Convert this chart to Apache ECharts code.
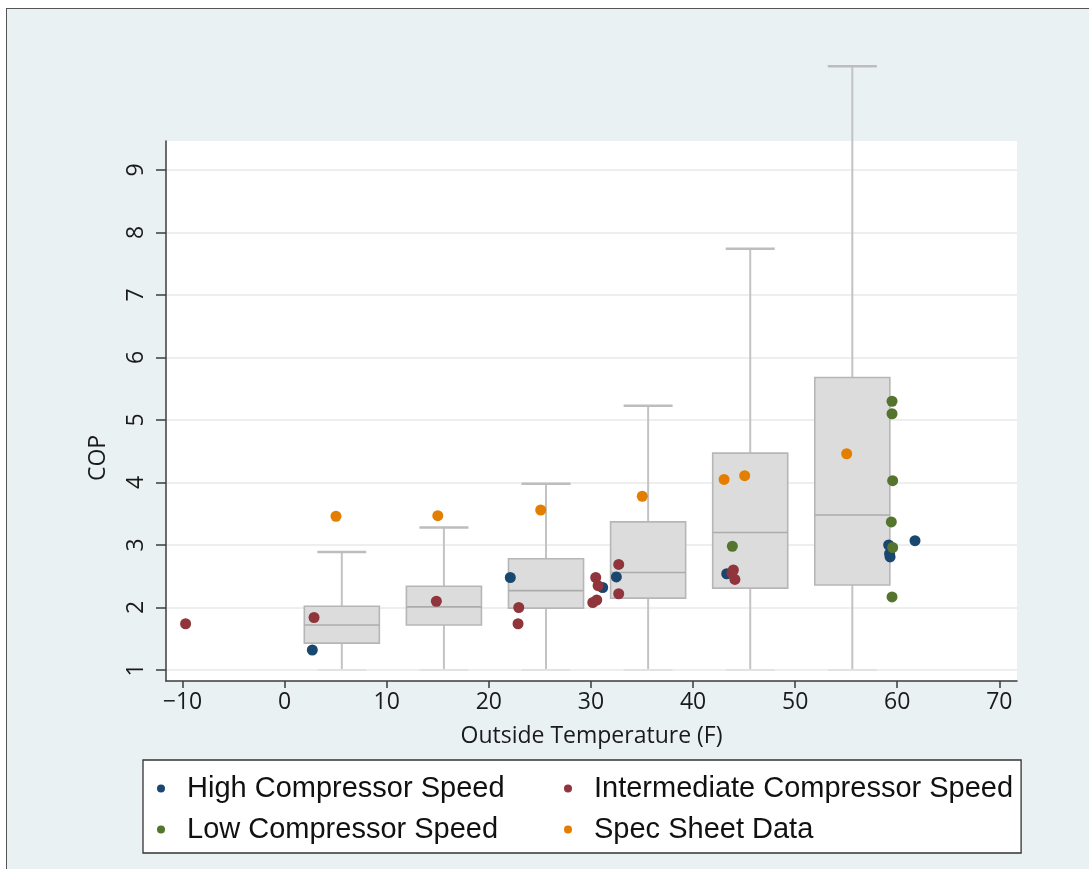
<!DOCTYPE html>
<html>
<head>
<meta charset="utf-8">
<script src="https://cdn.jsdelivr.net/npm/echarts@6/dist/echarts.min.js"></script>
<style>
  html, body { margin: 0; padding: 0; background: #ffffff; }
  #wrap { position: relative; width: 1089px; height: 869px; overflow: hidden; background: #ffffff; }
  #frame { position: absolute; left: 6px; top: 8px; right: 0; bottom: 0; background: #eaf1f3;
           border-top: 1.5px solid #555; border-left: 1.5px solid #555; }
  #chart { position: absolute; left: 0; top: 0; width: 1089px; height: 869px; }
</style>
</head>
<body>
<div id="wrap"><div id="frame"></div><div id="chart"></div></div>
<script>
// ---- data ----
const xTicks = [-10, 0, 10, 20, 30, 40, 50, 60, 70];
const yTicks = [1, 2, 3, 4, 5, 6, 7, 8, 9];

const boxCenters  = [5.6, 15.6, 25.6, 35.6, 45.6, 55.6];
const whiskerLow  = [1.0, 1.0, 1.0, 1.0, 1.0, 1.0];
const quart1      = [1.43, 1.72, 1.99, 2.15, 2.31, 2.36];
const medians     = [1.72, 2.01, 2.27, 2.56, 3.20, 3.48];
const quart3      = [2.02, 2.34, 2.78, 3.37, 4.47, 5.68];
const whiskerHigh = [2.89, 3.28, 3.98, 5.23, 7.74, 10.66];

const highSpeed = [[2.71, 1.32], [22.1, 2.48], [31.15, 2.32], [32.49, 2.49], [43.3, 2.54],
                   [59.16, 3.0], [59.3, 2.81], [59.25, 2.86], [61.74, 3.07]];
const intermediateSpeed = [[-9.7, 1.74], [2.88, 1.84], [14.86, 2.10], [22.93, 2.0], [22.86, 1.74],
                   [30.47, 2.48], [30.7, 2.35], [30.57, 2.12], [30.18, 2.08], [32.72, 2.69],
                   [32.72, 2.22], [43.95, 2.6], [44.1, 2.45], [43.8, 2.55]];
const lowSpeed = [[43.85, 2.98], [59.49, 5.30], [59.49, 5.10], [59.55, 4.03], [59.42, 3.37],
                  [59.55, 2.96], [59.49, 2.17]];
const specSheet = [[5.03, 3.46], [15.0, 3.47], [25.08, 3.56], [35.03, 3.78], [43.04, 4.05],
                   [45.06, 4.11], [55.05, 4.46]];

const seriesNames = ['High Compressor Speed', 'Intermediate Compressor Speed',
                     'Low Compressor Speed', 'Spec Sheet Data'];
// ---------------------------------------

const boxData = boxCenters.map((c, i) => [c, whiskerLow[i], quart1[i], medians[i], quart3[i], whiskerHigh[i]]);

const BOX_W = 7.35;   // box width in x units
const CAP_W = 4.8;    // whisker cap width in x units

function renderBox(params, api) {
  const x = api.value(0);
  const pt = v => api.coord([x, v]);
  const lo = pt(api.value(1)), b = pt(api.value(2)), m = pt(api.value(3)),
        t = pt(api.value(4)), hi = pt(api.value(5));
  const hw = api.size([BOX_W, 0])[0] / 2;
  const hc = api.size([CAP_W, 0])[0] / 2;
  const cx = m[0];
  const wStyle = { stroke: '#c3c3c3', lineWidth: 2 };
  return {
    type: 'group',
    children: [
      { type: 'line', shape: { x1: cx, y1: t[1], x2: cx, y2: hi[1] }, style: wStyle },
      { type: 'line', shape: { x1: cx, y1: b[1], x2: cx, y2: lo[1] }, style: wStyle },
      { type: 'line', shape: { x1: cx - hc, y1: hi[1], x2: cx + hc, y2: hi[1] }, style: { stroke: '#bdbdbd', lineWidth: 2.5 } },
      { type: 'line', shape: { x1: cx - hc, y1: lo[1], x2: cx + hc, y2: lo[1] }, style: { stroke: '#e2e2e2', lineWidth: 2 } },
      { type: 'rect', shape: { x: cx - hw, y: t[1], width: 2 * hw, height: b[1] - t[1] },
        style: { fill: '#dcdcdc', stroke: '#b6b6b6', lineWidth: 1.6 } },
      { type: 'line', shape: { x1: cx - hw, y1: m[1], x2: cx + hw, y2: m[1] }, style: { stroke: '#acacac', lineWidth: 1.6 } }
    ]
  };
}

const colors = ['#1a476f', '#90353b', '#55752f', '#e37e00'];
const pointSets = [highSpeed, intermediateSpeed, lowSpeed, specSheet];

const axisFont = 'Open Sans';
const chart = echarts.init(document.getElementById('chart'), null, { renderer: 'canvas' });

chart.setOption({
  backgroundColor: 'transparent',
  animation: false,
  grid: {
    left: 166, right: 72, top: 141, bottom: 188,
    show: true, backgroundColor: '#ffffff', borderWidth: 0,
    containLabel: false, outerBoundsMode: 'none'
  },
  xAxis: {
    type: 'value', min: -11.62, max: 71.73,
    name: 'Outside Temperature (F)', nameLocation: 'middle', nameGap: 44,
    nameTextStyle: { fontFamily: axisFont, fontSize: 23, color: '#1a1a1a' },
    axisLine: { show: true, onZero: false, lineStyle: { color: '#3c3c3c', width: 1.5 } },
    axisTick: { show: true, length: 7, customValues: xTicks, lineStyle: { color: '#3c3c3c', width: 1.5 } },
    axisLabel: { customValues: xTicks, margin: 10, fontFamily: axisFont, fontSize: 23, color: '#1a1a1a',
                 formatter: v => String(v).replace('-', '\u2212') },
    splitLine: { show: false }
  },
  yAxis: {
    type: 'value', min: 0.824, max: 9.464,
    name: 'COP', nameLocation: 'middle', nameGap: 56, nameRotate: 90,
    nameTextStyle: { fontFamily: axisFont, fontSize: 23, color: '#1a1a1a', padding: [0, 94, 0, 0] },
    axisLine: { show: true, onZero: false, lineStyle: { color: '#3c3c3c', width: 1.5 } },
    axisTick: { show: true, length: 10, customValues: yTicks, lineStyle: { color: '#3c3c3c', width: 1.5 } },
    axisLabel: { customValues: yTicks, rotate: 90, margin: 18, fontFamily: axisFont, fontSize: 23, color: '#1a1a1a' },
    splitLine: { show: true, lineStyle: { color: '#e6e9ea', width: 1.5 } }
  },
  legend: {
    data: seriesNames,
    left: 143, top: 760, width: 887,
    orient: 'horizontal',
    padding: [8, 8, 3, 14],
    itemGap: 0, itemWidth: 8, itemHeight: 8,
    icon: 'circle',
    backgroundColor: '#ffffff', borderColor: '#333333', borderWidth: 1.3, borderRadius: 0,
    selectedMode: false,
    textStyle: { fontFamily: 'Liberation Sans', fontSize: 29, color: '#111111',
                 width: 377, overflow: 'none', lineHeight: 41, padding: [0, 0, 0, 17] }
  },
  series: [
    {
      type: 'custom', data: boxData, renderItem: renderBox, clip: false, silent: true, z: 1,
      encode: { x: 0, y: [1, 2, 3, 4, 5] }
    }
  ].concat(pointSets.map((pts, i) => ({
    type: 'scatter', name: seriesNames[i], data: pts, symbol: 'circle', symbolSize: 11,
    itemStyle: { color: colors[i], opacity: 1 }, z: 3 + i
  })))
});
</script>
</body>
</html>
